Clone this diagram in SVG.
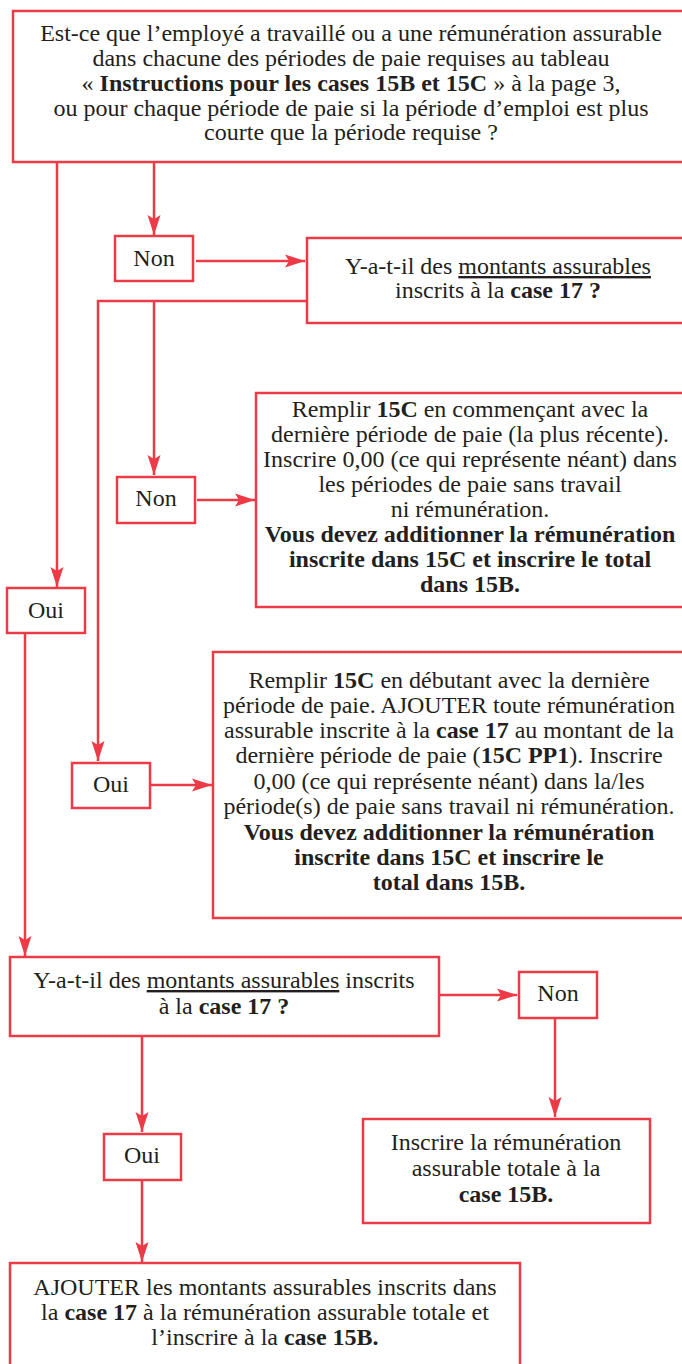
<svg xmlns="http://www.w3.org/2000/svg" width="682" height="1364" viewBox="0 0 682 1364">
<style>
.box{fill:#fff;stroke:#ec3b47;stroke-width:2.5}
.ln{fill:none;stroke:#ec3b47;stroke-width:2.5}
text{font-family:"Liberation Serif","Times New Roman",serif;font-size:24px;fill:#231f20;text-anchor:middle}
.b{font-weight:bold}
.u{text-decoration:underline}
</style>
<defs>
<marker id="ah" markerUnits="userSpaceOnUse" markerWidth="22" markerHeight="14" refX="20" refY="7" orient="auto">
<path d="M0,0.5 L20,7 L0,13.5 L4,7 z" fill="#ec3b47"/>
</marker>
</defs>
<rect width="682" height="1364" fill="#fff"/>
<g id="connectors">
<line class="ln" x1="154" y1="162" x2="154" y2="235" marker-end="url(#ah)"/>
<line class="ln" x1="57" y1="162" x2="57" y2="587" marker-end="url(#ah)"/>
<line class="ln" x1="196" y1="261" x2="305" y2="261" marker-end="url(#ah)"/>
<polyline class="ln" points="306,301 98,301 98,761" marker-end="url(#ah)"/>
<line class="ln" x1="154" y1="301" x2="154" y2="475" marker-end="url(#ah)"/>
<line class="ln" x1="197" y1="500" x2="255" y2="500" marker-end="url(#ah)"/>
<line class="ln" x1="25" y1="633" x2="25" y2="956" marker-end="url(#ah)"/>
<line class="ln" x1="150" y1="785" x2="212" y2="785" marker-end="url(#ah)"/>
<line class="ln" x1="439" y1="995" x2="517" y2="995" marker-end="url(#ah)"/>
<line class="ln" x1="555" y1="1019" x2="555" y2="1117" marker-end="url(#ah)"/>
<line class="ln" x1="142" y1="1036" x2="142" y2="1132" marker-end="url(#ah)"/>
<line class="ln" x1="142" y1="1180" x2="142" y2="1262" marker-end="url(#ah)"/>
</g>
<g id="q1">
<rect class="box" x="13" y="11" width="676" height="151"/>
<text x="351" y="41">Est-ce que l’employé a travaillé ou a une rémunération assurable</text>
<text x="351" y="66">dans chacune des périodes de paie requises au tableau</text>
<text x="351" y="91">« <tspan class="b">Instructions pour les cases 15B et 15C</tspan> » à la page 3,</text>
<text x="351" y="116">ou pour chaque période de paie si la période d’emploi est plus</text>
<text x="351" y="140">courte que la période requise ?</text>
</g>
<g id="non1">
<rect class="box" x="115" y="236" width="78" height="45"/>
<text x="154" y="266">Non</text>
</g>
<g id="q2">
<rect class="box" x="307" y="238" width="383" height="85"/>
<text x="498" y="274">Y-a-t-il des <tspan class="u">montants assurables</tspan></text>
<text x="498" y="298">inscrits à la <tspan class="b">case 17 ?</tspan></text>
</g>
<g id="non2">
<rect class="box" x="117" y="477" width="78" height="46"/>
<text x="156" y="506">Non</text>
</g>
<g id="r1">
<rect class="box" x="256" y="393" width="433" height="214"/>
<text x="470" y="417">Remplir <tspan class="b">15C</tspan> en commençant avec la</text>
<text x="470" y="442">dernière période de paie (la plus récente).</text>
<text x="470" y="467">Inscrire 0,00 (ce qui représente néant) dans</text>
<text x="470" y="492">les périodes de paie sans travail</text>
<text x="470" y="517">ni rémunération.</text>
<text x="470" y="542" class="b">Vous devez additionner la rémunération</text>
<text x="470" y="567" class="b">inscrite dans 15C et inscrire le total</text>
<text x="470" y="592" class="b">dans 15B.</text>
</g>
<g id="oui1">
<rect class="box" x="7" y="588" width="78" height="45"/>
<text x="46" y="618">Oui</text>
</g>
<g id="oui2">
<rect class="box" x="72" y="763" width="78" height="45"/>
<text x="111" y="792">Oui</text>
</g>
<g id="r2">
<rect class="box" x="213" y="652" width="476" height="266"/>
<text x="449" y="688">Remplir <tspan class="b">15C</tspan> en débutant avec la dernière</text>
<text x="449" y="713">période de paie. AJOUTER toute rémunération</text>
<text x="449" y="738">assurable inscrite à la <tspan class="b">case 17</tspan> au montant de la</text>
<text x="449" y="763">dernière période de paie (<tspan class="b">15C PP1</tspan>). Inscrire</text>
<text x="449" y="789">0,00 (ce qui représente néant) dans la/les</text>
<text x="449" y="814">période(s) de paie sans travail ni rémunération.</text>
<text x="449" y="840" class="b">Vous devez additionner la rémunération</text>
<text x="449" y="865" class="b">inscrite dans 15C et inscrire le</text>
<text x="449" y="890" class="b">total dans 15B.</text>
</g>
<g id="q3">
<rect class="box" x="10" y="957" width="429" height="79"/>
<text x="224" y="988">Y-a-t-il des <tspan class="u">montants assurables</tspan> inscrits</text>
<text x="224" y="1014">à la <tspan class="b">case 17 ?</tspan></text>
</g>
<g id="non3">
<rect class="box" x="519" y="972" width="78" height="46"/>
<text x="558" y="1001">Non</text>
</g>
<g id="r3">
<rect class="box" x="363" y="1119" width="287" height="104"/>
<text x="506" y="1150">Inscrire la rémunération</text>
<text x="506" y="1176">assurable totale à la</text>
<text x="506" y="1202" class="b">case 15B.</text>
</g>
<g id="oui3">
<rect class="box" x="104" y="1134" width="77" height="46"/>
<text x="142" y="1163">Oui</text>
</g>
<g id="r4">
<rect class="box" x="10" y="1263" width="510" height="120"/>
<text x="265" y="1295">AJOUTER les montants assurables inscrits dans</text>
<text x="265" y="1320">la <tspan class="b">case 17</tspan> à la rémunération assurable totale et</text>
<text x="265" y="1345">l’inscrire à la <tspan class="b">case 15B.</tspan></text>
</g>
</svg>
